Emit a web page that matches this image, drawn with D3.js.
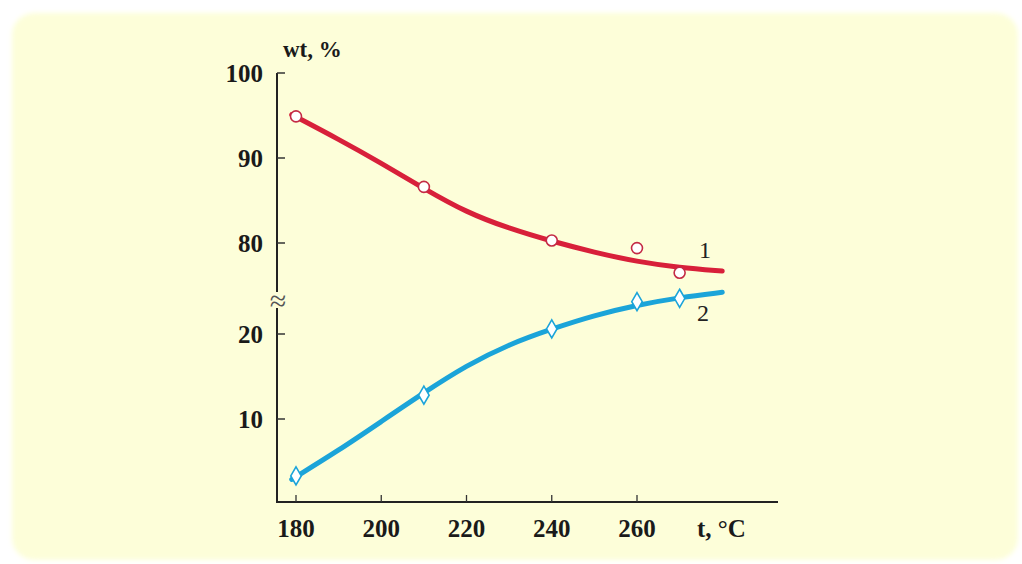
<!DOCTYPE html>
<html>
<head>
<meta charset="utf-8">
<script src="https://cdn.jsdelivr.net/npm/d3@7"></script>
<style>
  body { margin: 0; background: #fff; }
  text { font-family: "Liberation Serif", "Times New Roman", serif; }
</style>
</head>
<body>
<div id="chart"></div>
<script>
// measured points
const tPoints = [180, 210, 240, 260, 270];
const wt1 = [94.9, 86.6, 80.3, 79.4, 76.5];
const wt2 = [3.3, 12.8, 20.6, 23.8, 24.2];

// smoothed curves drawn through the data
const tCurve = [179, 190, 200, 210, 220, 230, 240, 250, 260, 270, 280];
const fit1 = [95.1, 92.2, 89.4, 86.4, 83.6, 81.7, 80.2, 78.9, 77.8, 77.1, 76.7];
const fit2 = [2.9, 6.3, 9.7, 13.1, 16.3, 18.8, 20.6, 22.2, 23.4, 24.3, 24.9];

const upperTicks = [100, 90, 80];
const lowerTicks = [20, 10];
const xTicks = [180, 200, 220, 240, 260];

const W = 1022, H = 564;

const svg = d3.select("#chart").append("svg")
  .attr("width", W)
  .attr("height", H);

const defs = svg.append("defs");
defs.append("filter").attr("id", "soft")
  .append("feGaussianBlur").attr("stdDeviation", 2.5);

svg.append("rect")
  .attr("x", 12).attr("y", 13)
  .attr("width", 1006).attr("height", 547)
  .attr("rx", 22)
  .attr("fill", "#fdfed9")
  .attr("filter", "url(#soft)");

const x = d3.scaleLinear().domain([180, 260]).range([296, 637]);
// broken y axis: two linear pieces with the same unit size
const yUp = d3.scaleLinear().domain([80, 100]).range([243, 73]);
const yLo = d3.scaleLinear().domain([0, 20]).range([504, 334]);

const axisX0 = 277, axisY0 = 502, axisXEnd = 778, axisYTop = 73;

const g = svg.append("g");

// axes lines
g.append("line")
  .attr("x1", axisX0).attr("x2", axisX0)
  .attr("y1", axisYTop).attr("y2", axisY0)
  .attr("stroke", "#222").attr("stroke-width", 2);
g.append("line")
  .attr("x1", axisX0 - 1).attr("x2", axisXEnd)
  .attr("y1", axisY0).attr("y2", axisY0)
  .attr("stroke", "#222").attr("stroke-width", 2);

// x ticks (pointing up) and labels
g.selectAll(".xt").data(xTicks).join("line")
  .attr("class", "xt")
  .attr("x1", d => x(d)).attr("x2", d => x(d))
  .attr("y1", axisY0).attr("y2", axisY0 - 7)
  .attr("stroke", "#333").attr("stroke-width", 1.3);
g.selectAll(".xl").data(xTicks).join("text")
  .attr("class", "xl")
  .attr("x", d => x(d)).attr("y", 537)
  .attr("text-anchor", "middle")
  .attr("font-size", 25).attr("font-weight", "bold")
  .attr("fill", "#1a1a1a")
  .text(d => d);

// y ticks
const yTickData = upperTicks.map(v => ({ v, y: yUp(v) }))
  .concat(lowerTicks.map(v => ({ v, y: yLo(v) })));
g.selectAll(".yt").data(yTickData).join("line")
  .attr("class", "yt")
  .attr("x1", axisX0).attr("x2", axisX0 + 8)
  .attr("y1", d => d.y).attr("y2", d => d.y)
  .attr("stroke", "#333").attr("stroke-width", 1.5);
g.selectAll(".yl").data(yTickData).join("text")
  .attr("class", "yl")
  .attr("x", 263).attr("y", d => d.y + 9)
  .attr("text-anchor", "end")
  .attr("font-size", 25).attr("font-weight", "bold")
  .attr("fill", "#1a1a1a")
  .text(d => d.v);

// break mark
g.append("rect")
  .attr("x", axisX0 - 2).attr("y", 292).attr("width", 4).attr("height", 16)
  .attr("fill", "#fdfed9");
g.append("text")
  .attr("x", axisX0 + 1).attr("y", 311)
  .attr("text-anchor", "middle")
  .attr("font-size", 30)
  .attr("fill", "#555")
  .text("≈");

// axis titles
g.append("text")
  .attr("x", 283).attr("y", 57)
  .attr("font-size", 23).attr("font-weight", "bold")
  .attr("fill", "#1a1a1a")
  .text("wt, %");
g.append("text")
  .attr("x", 697).attr("y", 537)
  .attr("font-size", 25).attr("font-weight", "bold")
  .attr("fill", "#1a1a1a")
  .text("t, °C");

// curves
const line1 = d3.line().x((d, i) => x(tCurve[i])).y(d => yUp(d)).curve(d3.curveBasis);
const line2 = d3.line().x((d, i) => x(tCurve[i])).y(d => yLo(d)).curve(d3.curveBasis);

g.append("path").datum(fit1)
  .attr("d", line1)
  .attr("fill", "none").attr("stroke", "#d8203a").attr("stroke-width", 5)
  .attr("stroke-linecap", "round");
g.append("path").datum(fit2)
  .attr("d", line2)
  .attr("fill", "none").attr("stroke", "#1ba4d9").attr("stroke-width", 5)
  .attr("stroke-linecap", "round");

// markers
g.selectAll(".c1").data(wt1).join("circle")
  .attr("class", "c1")
  .attr("cx", (d, i) => x(tPoints[i])).attr("cy", d => yUp(d))
  .attr("r", 5.5)
  .attr("fill", "#fff").attr("stroke", "#c42a45").attr("stroke-width", 1.6);

const diamond = d3.symbol().type(d3.symbolDiamond).size(95);
g.selectAll(".d2").data(wt2).join("path")
  .attr("class", "d2")
  .attr("transform", (d, i) => `translate(${x(tPoints[i])},${yLo(d)})`)
  .attr("d", diamond)
  .attr("fill", "#fff").attr("stroke", "#1ba4d9").attr("stroke-width", 1.6);

// curve labels
g.append("text")
  .attr("x", 705).attr("y", 258)
  .attr("text-anchor", "middle")
  .attr("font-size", 24).attr("fill", "#222")
  .text("1");
g.append("text")
  .attr("x", 703).attr("y", 321)
  .attr("text-anchor", "middle")
  .attr("font-size", 24).attr("fill", "#222")
  .text("2");
</script>
</body>
</html>
